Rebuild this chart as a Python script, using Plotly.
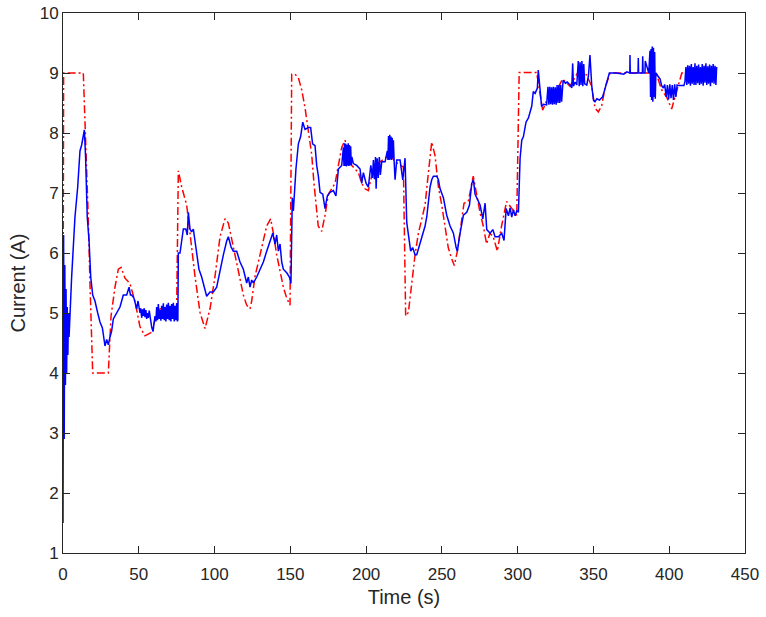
import plotly.graph_objects as go

# Reference current (red, dash-dot)
t_ref = [0.0, 0.4, 13.4, 15.6, 16.7, 17.8, 19.6, 29.9, 31.7, 34.3, 36.5, 38.3, 40.9, 44.2, 47.5, 50.8,
         54.1, 58.5, 60.7, 64.0, 69.5, 75.0, 76.1, 78.3, 81.6, 83.8, 87.1, 90.4, 93.7, 97.0, 100.3,
         103.6, 106.9, 109.1, 112.4, 115.7, 119.0, 121.2, 123.4, 124.5, 126.7, 130.0, 132.2, 134.4,
         137.0, 138.8, 141.0, 143.2, 145.4, 147.6, 149.8, 150.9, 153.1, 155.3, 157.5, 159.7, 161.9,
         164.1, 165.6, 166.9, 168.4, 170.7, 172.9, 175.1, 177.3, 179.5, 181.7, 183.9, 186.1, 188.3,
         190.5, 192.7, 194.9, 197.1, 199.3, 201.5, 203.7, 205.9, 209.2, 212.5, 215.8, 219.1, 222.4,
         224.6, 226.1, 227.9, 230.1, 232.3, 234.5, 236.7, 238.9, 241.1, 243.3, 245.5, 247.7, 249.9,
         252.1, 254.2, 256.4, 258.2, 260.2, 262.4, 264.6, 267.4, 270.7, 272.9, 275.1, 277.3, 279.5,
         281.7, 283.9, 286.6, 289.4, 292.7, 296.0, 299.4, 301.0, 312.5, 316.5, 319.1, 323.5, 329.6,
         334.5, 339.5, 345.5, 348.8, 351.0, 353.2, 355.4, 357.6, 361.0, 387.3, 391.7, 395.0, 398.3,
         401.6, 404.5, 408.3, 410.4, 429.0]
i_ref = [4.0, 9.0, 9.0, 7.46, 6.57, 5.49, 4.0, 4.0, 4.95, 5.43, 5.73, 5.76, 5.58, 5.49, 5.19, 4.77,
         4.62, 4.68, 4.89, 5.07, 5.1, 5.07, 7.37, 7.1, 6.8, 6.33, 5.61, 5.01, 4.74, 5.07, 5.61,
         6.27, 6.57, 6.5, 6.09, 5.73, 5.3, 5.13, 5.07, 5.2, 5.61, 5.97, 6.21, 6.45,
         6.57, 6.33, 5.97, 5.67, 5.43, 5.25, 5.13, 8.98, 8.98, 8.92, 8.72, 8.42, 8.06,
         7.64, 7.16, 6.8, 6.45, 6.36, 6.63, 6.98, 7.07, 7.16, 7.46, 7.76, 7.88, 7.64,
         7.46, 7.4, 7.34, 7.16, 7.07, 7.04, 7.28, 7.46, 7.52, 7.58, 7.64, 7.52, 7.46,
         7.43, 4.95, 5.01, 5.49, 5.97, 6.33, 6.57, 6.8, 7.34, 7.85, 7.62, 7.1, 6.8,
         6.45, 6.09, 5.91, 5.79, 6.03, 6.39, 6.83, 6.86, 7.28, 6.98, 6.68, 6.45, 6.15,
         6.33, 6.27, 6.03, 6.45, 6.86, 6.74, 6.63, 9.01, 9.01, 8.38, 8.54, 8.6, 8.9,
         8.78, 9.0, 8.97, 8.78, 8.42, 8.35, 8.45, 8.75, 9.0, 9.0, 8.97, 8.72, 8.6,
         8.4, 8.66, 9.0, 9.0, 9.0]

# Measured current (blue, solid), read in segments
t_meas_a = [0.0, 0.4, 0.8, 1.2, 1.6, 2.0, 2.4, 2.8, 3.2, 3.6, 4.0, 4.6, 5.7, 6.8, 7.9, 9.7, 11.2, 12.3,
            13.4, 14.1, 14.9, 16.0, 17.2, 18.3, 19.6, 21.1, 22.9, 24.4, 26.0, 27.0, 27.7, 28.8, 29.9,
            31.0, 32.1, 33.2, 35.4, 37.6, 38.7, 39.8, 42.0, 43.6, 44.5, 45.3, 46.8, 48.6, 49.5, 50.8,
            51.3, 51.9, 52.5, 53.0, 53.6, 54.1, 54.7, 55.2, 55.8, 56.3, 56.9, 57.4, 58.5, 59.4, 60.2,
            60.7, 61.3, 61.8, 62.4, 62.9, 63.5, 64.0, 64.6, 65.1, 65.7, 66.2, 66.8, 67.3, 67.9, 68.4,
            69.0, 69.5, 70.1, 70.6, 71.2, 71.7, 72.3, 72.8, 73.4, 73.9, 74.5, 75.0, 75.5, 75.8]
i_meas_a = [1.5, 6.3, 2.9, 5.8, 3.8, 5.4, 4.0, 5.1, 4.3, 5.0, 4.6, 5.0, 5.6, 6.1, 6.6, 7.1, 7.7, 7.8,
            8.0, 8.05, 7.6, 6.6, 6.2, 5.6, 5.3, 5.2, 5.0, 4.85, 4.75, 4.6, 4.45, 4.56, 4.47,
            4.6, 4.7, 4.9, 5.0, 5.1, 5.2, 5.3, 5.3, 5.43, 5.3, 5.3, 5.25, 5.07, 5.2, 5.0,
            5.08, 4.92, 5.06, 4.95, 5.08, 4.93, 5.05, 4.9, 5.0, 4.92, 5.04, 4.95, 4.77, 4.69, 4.82,
            4.95, 4.86, 5.1, 4.88, 5.15, 4.9, 5.05, 4.87, 5.12, 4.9, 5.16, 4.88, 5.1, 4.86, 5.14,
            4.9, 5.17, 4.88, 5.12, 4.86, 5.15, 4.9, 5.17, 4.86, 5.12, 4.88, 5.16, 4.86, 4.89]

t_meas_b = [76.1, 77.2, 78.3, 79.4, 81.0, 82.0, 82.7, 83.8, 84.9, 86.0, 87.1, 88.2, 89.7, 91.5, 93.7,
            94.8, 97.0, 99.2, 101.4, 103.6, 105.8, 108.0, 109.1, 110.9, 112.4, 114.6, 116.8, 119.0,
            121.2, 122.3, 123.4, 124.5, 125.6, 127.8, 130.0, 132.2, 134.4, 136.6, 138.4, 139.9, 141.0,
            142.1, 143.2, 144.3, 145.4, 147.6, 149.4, 150.4]
i_meas_b = [6.0, 6.0, 6.2, 6.4, 6.4, 6.3, 6.68, 6.4, 6.35, 6.4, 6.2, 6.03, 5.73, 5.6, 5.37,
            5.28, 5.35, 5.35, 5.43, 5.73, 5.97, 6.2, 6.27, 6.1, 6.03, 6.03, 5.85, 5.73,
            5.5, 5.6, 5.43, 5.55, 5.5, 5.6, 5.73, 5.85, 6.03, 6.2, 6.33, 6.15, 6.3,
            6.03, 6.15, 5.85, 5.73, 5.67, 5.6, 5.49]

t_meas_c = [151.3, 152.0, 152.6, 153.7, 155.3, 156.8, 158.2, 159.7, 161.9, 163.4, 164.7, 166.3, 167.4,
            168.5, 169.6, 171.4, 172.9, 174.4, 176.2, 178.4, 180.1, 181.7, 183.9, 185.0, 185.4, 185.8,
            186.2, 186.6, 187.0, 187.4, 187.8, 188.2, 188.6, 189.0, 189.4, 189.8, 190.2, 190.6, 191.6,
            193.8, 196.0, 197.1, 198.2, 200.0, 201.5, 202.3, 203.1, 204.2, 204.8, 205.5, 206.2, 206.6,
            207.3, 208.0, 208.7, 209.4, 210.3, 212.5, 214.0, 214.4, 214.8, 215.2, 215.6, 216.0, 216.4,
            216.8, 217.2, 217.6, 218.0, 218.5, 219.1, 220.2, 222.4, 224.2, 225.7]
i_meas_c = [6.92, 6.7, 7.04, 7.4, 7.82, 7.94, 8.18, 8.06, 8.09, 8.09, 7.82, 7.79, 7.46,
            7.28, 7.01, 6.98, 6.74, 6.95, 7.01, 7.04, 6.95, 7.4, 7.46, 7.76, 7.45, 7.83,
            7.45, 7.82, 7.44, 7.8, 7.46, 7.83, 7.45, 7.8, 7.46, 7.78, 7.46, 7.6, 7.49,
            7.46, 7.4, 7.16, 7.34, 7.16, 7.1, 7.3, 7.46, 7.25, 7.55, 7.23, 7.6, 7.07,
            7.58, 7.25, 7.6, 7.3, 7.52, 7.52, 7.7, 7.55, 7.95, 7.55, 7.97, 7.56, 7.94,
            7.55, 7.92, 7.58, 7.88, 7.52, 7.22, 7.55, 7.55, 7.22, 7.58]

t_meas_d = [226.8, 228.3, 229.4, 230.7, 232.3, 233.4, 235.6, 237.3, 238.9, 240.0, 241.1, 242.2, 243.3,
            244.4, 245.5, 246.6, 247.7, 248.8, 251.0, 253.2, 255.4, 257.6, 259.4, 260.2, 262.0, 264.2,
            266.4, 268.2, 269.7, 270.8, 271.9, 273.4, 275.2, 277.0, 278.5, 279.6, 281.8, 283.6, 285.1,
            287.3, 289.5, 291.0, 292.4, 293.9, 295.0, 296.1, 297.2, 298.3, 299.4, 300.5]
i_meas_d = [6.51, 6.21, 6.03, 6.09, 5.97, 5.97, 6.15, 6.33, 6.45, 6.6, 6.92, 7.1, 7.22,
            7.28, 7.28, 7.28, 7.22, 7.07, 6.92, 6.63, 6.45, 6.33, 6.09, 6.03, 6.33, 6.63,
            6.68, 6.8, 7.16, 7.22, 6.98, 6.89, 6.8, 6.57, 6.83, 6.39, 6.33, 6.39, 6.27,
            6.27, 6.33, 6.21, 6.74, 6.62, 6.75, 6.6, 6.72, 6.62, 6.7, 6.68]

t_meas_e = [301.6, 302.7, 303.8, 305.5, 307.1, 309.3, 310.3, 311.5, 313.0, 313.6, 314.7, 315.8, 317.0,
            319.1, 320.0, 320.6, 321.2, 321.8, 322.4, 323.0, 323.6, 324.2, 324.8, 325.4, 326.0, 326.6,
            327.2, 327.8, 328.4, 329.0, 330.0, 331.5, 332.7, 334.6, 335.7, 336.3, 336.8, 337.9, 339.0,
            340.0, 340.6, 341.2, 341.8, 342.4, 343.0, 343.6, 344.2, 345.6, 346.7, 347.7, 348.9, 350.0,
            351.0, 352.2, 353.9, 356.0, 357.2, 359.4, 360.5, 365.0, 370.0, 372.0, 374.0, 374.1, 374.3,
            376.0, 379.4, 379.6, 379.8, 382.3, 382.5, 382.8, 384.0, 384.2, 386.5, 387.3, 387.7, 388.0,
            388.4, 388.8, 389.2, 389.6, 390.0, 390.4, 390.8, 391.2, 392.5, 394.0, 395.0, 396.1, 397.0,
            398.0, 398.8, 399.6, 400.4, 401.2, 402.0, 402.8, 403.6, 404.4, 405.2, 406.4, 409.7]
i_meas_e = [7.58, 7.88, 7.94, 8.18, 8.25, 8.45, 8.69, 8.66, 8.75, 9.05, 8.72, 8.44, 8.48,
            8.47, 8.77, 8.47, 8.77, 8.48, 8.76, 8.47, 8.77, 8.48, 8.76, 8.47, 8.8, 8.5,
            8.8, 8.5, 8.8, 8.52, 8.88, 8.83, 8.85, 8.8, 8.75, 9.16, 8.78, 8.85, 8.8,
            9.2, 8.78, 9.18, 8.8, 9.2, 8.78, 9.15, 8.82, 8.8, 8.95, 9.3, 8.78, 8.55,
            8.52, 8.57, 8.55, 8.6, 8.7, 8.9, 9.0, 9.0, 8.98, 9.02, 9.0, 9.3, 9.0,
            9.0, 9.0, 9.25, 9.0, 9.0, 9.28, 9.0, 9.0, 9.2, 9.0, 9.37, 8.6, 9.4,
            8.55, 9.44, 8.52, 9.42, 8.6, 9.35, 8.57, 9.0, 8.95, 8.9, 8.79, 8.75, 8.81,
            8.6, 8.8, 8.56, 8.81, 8.58, 8.8, 8.55, 8.81, 8.6, 8.8, 8.79, 8.79]

t_meas_f = [410.4, 411.0, 411.6, 412.2, 412.8, 413.4, 414.0, 414.6, 415.2, 415.8, 416.4, 417.0, 417.6,
            418.2, 418.8, 419.4, 420.0, 420.6, 421.2, 421.8, 422.4, 423.0, 423.6, 424.2, 424.8, 425.4,
            426.0, 426.6, 427.2, 427.8, 428.4, 429.0, 429.6, 430.2, 430.8, 431.3]
i_meas_f = [8.86, 9.1, 8.8, 9.13, 8.82, 9.12, 8.79, 9.15, 8.82, 9.1, 8.8, 9.16, 8.8,
            9.12, 8.83, 9.14, 8.8, 9.1, 8.82, 9.15, 8.79, 9.12, 8.84, 9.16, 8.8, 9.11,
            8.82, 9.14, 8.78, 9.12, 8.84, 9.15, 8.82, 9.12, 8.8, 9.1]

t_meas = t_meas_a + t_meas_b + t_meas_c + t_meas_d + t_meas_e + t_meas_f
i_meas = i_meas_a + i_meas_b + i_meas_c + i_meas_d + i_meas_e + i_meas_f

x_ticks = [0, 50, 100, 150, 200, 250, 300, 350, 400, 450]
y_ticks = [1, 2, 3, 4, 5, 6, 7, 8, 9, 10]

axis_color = "#262626"
font_family = "Liberation Sans, Arial, sans-serif"

fig = go.Figure()
fig.add_trace(go.Scatter(x=t_ref, y=i_ref, mode="lines",
                         line=dict(color="#ff0000", width=1.5, dash="8px,3px,2px,3px"),
                         showlegend=False))
fig.add_trace(go.Scatter(x=t_meas, y=i_meas, mode="lines",
                         line=dict(color="#0000ff", width=1.5),
                         showlegend=False))

axis_common = dict(showgrid=False, zeroline=False, showline=True, linecolor=axis_color,
                   linewidth=1, mirror="ticks", ticks="inside", ticklen=7, tickwidth=1,
                   tickcolor=axis_color, automargin=False,
                   tickfont=dict(family=font_family, size=17, color=axis_color))

fig.update_xaxes(range=[0, 450], tickvals=x_ticks, ticktext=[str(v) for v in x_ticks],
                 ticklabelstandoff=6,
                 title=dict(text="Time (s)", font=dict(family=font_family, size=20, color=axis_color),
                            standoff=6),
                 **axis_common)
fig.update_yaxes(range=[1, 10], tickvals=y_ticks, ticktext=[str(v) for v in y_ticks],
                 title=dict(text="Current (A)", font=dict(family=font_family, size=20, color=axis_color),
                            standoff=8),
                 **axis_common)

fig.update_layout(width=766, height=617, paper_bgcolor="white", plot_bgcolor="white",
                  margin=dict(l=63, r=21, t=13, b=64), showlegend=False)

fig.write_html("out.html")
